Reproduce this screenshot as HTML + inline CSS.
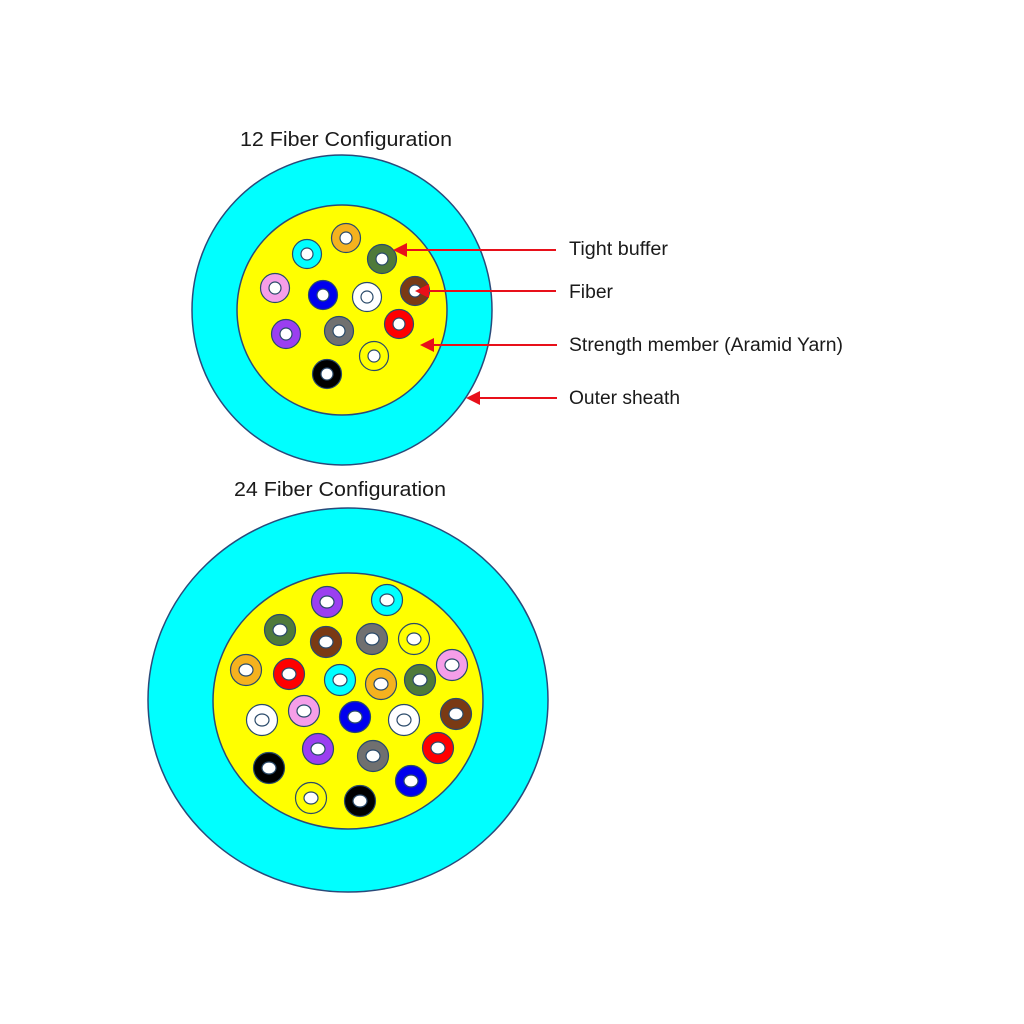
<!DOCTYPE html>
<html><head><meta charset="utf-8"><style>
html,body{margin:0;padding:0;background:#fff;width:1024px;height:1024px;overflow:hidden}
svg{display:block}
text{font-family:"Liberation Sans",sans-serif;fill:#1a1a1a}
</style></head><body>
<svg width="1024" height="1024" viewBox="0 0 1024 1024" xmlns="http://www.w3.org/2000/svg">
<text x="240" y="146" font-size="20" textLength="212" lengthAdjust="spacingAndGlyphs">12 Fiber Configuration</text>
<text x="234" y="496" font-size="20" textLength="212" lengthAdjust="spacingAndGlyphs">24 Fiber Configuration</text>

<ellipse cx="342" cy="310" rx="150" ry="155" fill="#00ffff" stroke="#2a4a7a" stroke-width="1.5"/>
<ellipse cx="342" cy="310" rx="105" ry="105" fill="#ffff00" stroke="#2a4a7a" stroke-width="1.5"/>
<g stroke="#2a4a6a" stroke-width="1.2">
<circle cx="346" cy="238" r="14.5" fill="#f5b21e"/><circle cx="346" cy="238" r="6" fill="#fff"/>
<circle cx="307" cy="254" r="14.5" fill="#00ffff"/><circle cx="307" cy="254" r="6" fill="#fff"/>
<circle cx="382" cy="259" r="14.5" fill="#4f7a3a"/><circle cx="382" cy="259" r="6" fill="#fff"/>
<circle cx="275" cy="288" r="14.5" fill="#f59ee8"/><circle cx="275" cy="288" r="6" fill="#fff"/>
<circle cx="323" cy="295" r="14.5" fill="#0000ee"/><circle cx="323" cy="295" r="6" fill="#fff"/>
<circle cx="367" cy="297" r="14.5" fill="#fff"/><circle cx="367" cy="297" r="6" fill="#fff"/>
<circle cx="415" cy="291" r="14.5" fill="#7a3a14"/><circle cx="415" cy="291" r="6" fill="#fff"/>
<circle cx="286" cy="334" r="14.5" fill="#9b3ff0"/><circle cx="286" cy="334" r="6" fill="#fff"/>
<circle cx="339" cy="331" r="14.5" fill="#707070"/><circle cx="339" cy="331" r="6" fill="#fff"/>
<circle cx="399" cy="324" r="14.5" fill="#ff0000"/><circle cx="399" cy="324" r="6" fill="#fff"/>
<circle cx="374" cy="356" r="14.5" fill="#ffff00"/><circle cx="374" cy="356" r="6" fill="#fff"/>
<circle cx="327" cy="374" r="14.5" fill="#000"/><circle cx="327" cy="374" r="6" fill="#fff"/>
</g>

<g stroke="#e8101a" stroke-width="2">
<line x1="556" y1="250" x2="404" y2="250"/>
<line x1="556" y1="291" x2="426" y2="291"/>
<line x1="557" y1="345" x2="431" y2="345"/>
<line x1="557" y1="398" x2="477" y2="398"/>
</g>
<g fill="#e8101a">
<polygon points="393,250 407,243 407,257"/>
<polygon points="415,291 429,284 429,298"/>
<polygon points="420,345 434,338 434,352"/>
<polygon points="466,398 480,391 480,405"/>
</g>
<text x="569" y="255" font-size="19" textLength="99" lengthAdjust="spacingAndGlyphs">Tight buffer</text>
<text x="569" y="298" font-size="19" textLength="44" lengthAdjust="spacingAndGlyphs">Fiber</text>
<text x="569" y="351" font-size="19" textLength="274" lengthAdjust="spacingAndGlyphs">Strength member (Aramid Yarn)</text>
<text x="569" y="404" font-size="19" textLength="111" lengthAdjust="spacingAndGlyphs">Outer sheath</text>

<ellipse cx="348" cy="700" rx="200" ry="192" fill="#00ffff" stroke="#2a4a7a" stroke-width="1.5"/>
<ellipse cx="348" cy="701" rx="135" ry="128" fill="#ffff00" stroke="#2a4a7a" stroke-width="1.5"/>
<g stroke="#2a4a6a" stroke-width="1.2">
<circle cx="327" cy="602" r="15.5" fill="#9b3ff0"/><ellipse cx="327" cy="602" rx="7" ry="6" fill="#fff"/>
<circle cx="387" cy="600" r="15.5" fill="#00ffff"/><ellipse cx="387" cy="600" rx="7" ry="6" fill="#fff"/>
<circle cx="280" cy="630" r="15.5" fill="#4f7a3a"/><ellipse cx="280" cy="630" rx="7" ry="6" fill="#fff"/>
<circle cx="326" cy="642" r="15.5" fill="#7a3a14"/><ellipse cx="326" cy="642" rx="7" ry="6" fill="#fff"/>
<circle cx="372" cy="639" r="15.5" fill="#707070"/><ellipse cx="372" cy="639" rx="7" ry="6" fill="#fff"/>
<circle cx="414" cy="639" r="15.5" fill="#ffff00"/><ellipse cx="414" cy="639" rx="7" ry="6" fill="#fff"/>
<circle cx="452" cy="665" r="15.5" fill="#f59ee8"/><ellipse cx="452" cy="665" rx="7" ry="6" fill="#fff"/>
<circle cx="246" cy="670" r="15.5" fill="#f5b21e"/><ellipse cx="246" cy="670" rx="7" ry="6" fill="#fff"/>
<circle cx="289" cy="674" r="15.5" fill="#ff0000"/><ellipse cx="289" cy="674" rx="7" ry="6" fill="#fff"/>
<circle cx="340" cy="680" r="15.5" fill="#00ffff"/><ellipse cx="340" cy="680" rx="7" ry="6" fill="#fff"/>
<circle cx="381" cy="684" r="15.5" fill="#f5b21e"/><ellipse cx="381" cy="684" rx="7" ry="6" fill="#fff"/>
<circle cx="420" cy="680" r="15.5" fill="#4f7a3a"/><ellipse cx="420" cy="680" rx="7" ry="6" fill="#fff"/>
<circle cx="262" cy="720" r="15.5" fill="#fff"/><ellipse cx="262" cy="720" rx="7" ry="6" fill="#fff"/>
<circle cx="304" cy="711" r="15.5" fill="#f59ee8"/><ellipse cx="304" cy="711" rx="7" ry="6" fill="#fff"/>
<circle cx="355" cy="717" r="15.5" fill="#0000ee"/><ellipse cx="355" cy="717" rx="7" ry="6" fill="#fff"/>
<circle cx="404" cy="720" r="15.5" fill="#fff"/><ellipse cx="404" cy="720" rx="7" ry="6" fill="#fff"/>
<circle cx="456" cy="714" r="15.5" fill="#7a3a14"/><ellipse cx="456" cy="714" rx="7" ry="6" fill="#fff"/>
<circle cx="318" cy="749" r="15.5" fill="#9b3ff0"/><ellipse cx="318" cy="749" rx="7" ry="6" fill="#fff"/>
<circle cx="373" cy="756" r="15.5" fill="#707070"/><ellipse cx="373" cy="756" rx="7" ry="6" fill="#fff"/>
<circle cx="438" cy="748" r="15.5" fill="#ff0000"/><ellipse cx="438" cy="748" rx="7" ry="6" fill="#fff"/>
<circle cx="269" cy="768" r="15.5" fill="#000"/><ellipse cx="269" cy="768" rx="7" ry="6" fill="#fff"/>
<circle cx="411" cy="781" r="15.5" fill="#0000ee"/><ellipse cx="411" cy="781" rx="7" ry="6" fill="#fff"/>
<circle cx="311" cy="798" r="15.5" fill="#ffff00"/><ellipse cx="311" cy="798" rx="7" ry="6" fill="#fff"/>
<circle cx="360" cy="801" r="15.5" fill="#000"/><ellipse cx="360" cy="801" rx="7" ry="6" fill="#fff"/>
</g>
</svg>
</body></html>
